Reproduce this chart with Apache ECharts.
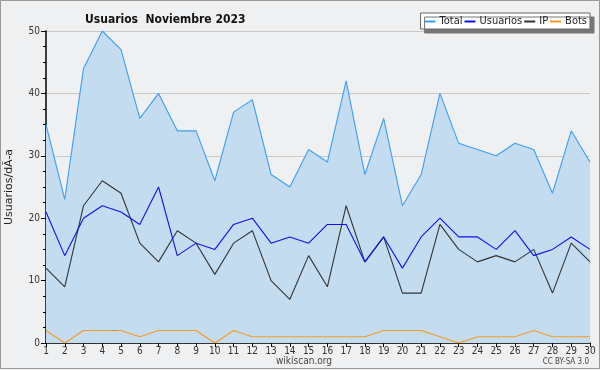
<!DOCTYPE html>
<html><head><meta charset="utf-8">
<script src="https://cdn.jsdelivr.net/npm/echarts@6/dist/echarts.min.js"></script>
<style>html,body{margin:0;padding:0;background:#eff0f1}#c{width:600px;height:370px}</style>
</head><body><div id="c"></div>
<script>
const days = [1,2,3,4,5,6,7,8,9,10,11,12,13,14,15,16,17,18,19,20,21,22,23,24,25,26,27,28,29,30];
const total = [35,23,44,50,47,36,40,34,34,26,37,39,27,25,31,29,42,27,36,22,27,40,32,31,30,32,31,24,34,29];
const usuarios = [21,14,20,22,21,19,25,14,16,15,19,20,16,17,16,19,19,13,17,12,17,20,17,17,15,18,14,15,17,15];
const ip = [12,9,22,26,24,16,13,18,16,11,16,18,10,7,14,9,22,13,17,8,8,19,15,13,14,13,15,8,16,13];
const bots = [2,0,2,2,2,1,2,2,2,0,2,1,1,1,1,1,1,1,2,2,2,1,0,1,1,1,2,1,1,1];
const yTicks = [0,10,20,30,40,50];

const pair = arr => days.map((d,i)=>[d,arr[i]]);
const chart = echarts.init(document.getElementById('c'), null, {renderer:'canvas'});
const font = 'DejaVu Sans';
const cfont = '"DejaVu Sans Condensed", "DejaVu Sans"';
function line(name, arr, color, extra){
  return Object.assign({name, type:'line', data:pair(arr), symbol:'none', animation:false,
    lineStyle:{color, width:1.1}, itemStyle:{color}}, extra||{});
}
chart.setOption({
  backgroundColor:'#eff0f1',
  animation:false,
  title:{text:'Usuarios  Noviembre 2023', left:80, top:9,
    textStyle:{fontFamily:cfont, fontSize:12, fontWeight:'bold', color:'#111'}},
  legend:{right:10, top:13, orient:'horizontal', itemWidth:11, itemHeight:2, itemGap:2,
    icon:'rect', backgroundColor:'#fff', borderColor:'#666', borderWidth:1,
    padding:[3,3,2,4], shadowColor:'#777', shadowOffsetX:4, shadowOffsetY:4, shadowBlur:0,
    textStyle:{fontFamily:cfont, fontSize:11, color:'#222', padding:[0,0,0,-1]},
    data:['Total','Usuarios','IP','Bots']},
  grid:{left:46, right:10, top:31, bottom:27, containLabel:false, outerBoundsMode:'none'},
  xAxis:{type:'value', min:1, max:30, interval:1,
    axisLine:{lineStyle:{color:'#000', width:1.5}},
    axisTick:{show:true, length:4, lineStyle:{color:'#000'}},
    axisLabel:{fontFamily:cfont, fontSize:10, color:'#333', margin:3,
      formatter:v=>days.includes(v)?String(v):''},
    splitLine:{show:false}},
  yAxis:{type:'value', min:yTicks[0], max:yTicks[yTicks.length-1], interval:10,
    name:'Usuarios/dÃ-a', nameLocation:'middle', nameGap:31, nameMoveOverlap:false,
    nameTextStyle:{fontFamily:font, fontSize:11, color:'#222'},
    axisLine:{show:true, lineStyle:{color:'#000', width:1.5}},
    axisTick:{show:true, length:5, lineStyle:{color:'#000'}},
    minorTick:{show:true, splitNumber:4, length:3, lineStyle:{color:'#000'}},
    axisLabel:{fontFamily:cfont, fontSize:10, color:'#333', margin:6},
    splitLine:{show:true, lineStyle:{color:'#c8c8c8', width:1}}},
  series:[
    line('Total', total, '#3d9df5', {areaStyle:{color:'#c4dcf0', opacity:1}, z:1}),
    line('Usuarios', usuarios, '#1010f0', {z:3}),
    line('IP', ip, '#333333', {z:2}),
    line('Bots', bots, '#f79a1e', {z:3})
  ],
  graphic:[
    {type:'rect', shape:{x:0.5,y:0.5,width:599,height:368}, style:{fill:null, stroke:'#999', lineWidth:1}, silent:true, z:100},
    {type:'text', left:276, top:356, style:{text:'wikiscan.org', fontFamily:cfont, fontSize:10, fill:'#444'}},
    {type:'text', right:11, top:358, style:{text:'CC BY-SA 3.0', fontFamily:cfont, fontSize:8, fill:'#444'}}
  ]
});
</script></body></html>
